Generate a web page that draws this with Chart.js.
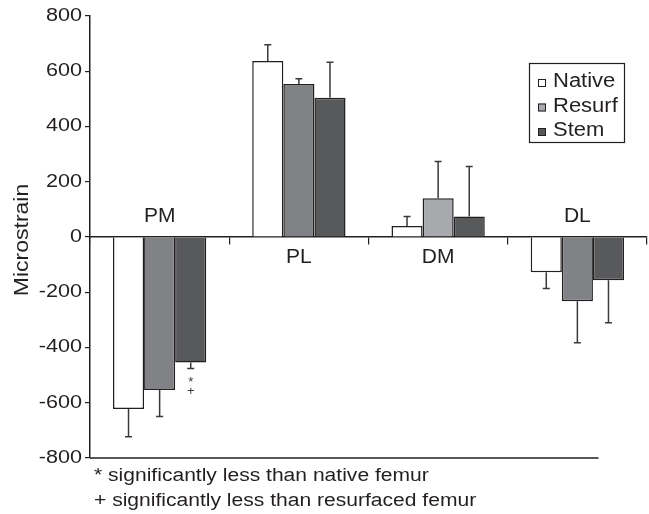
<!DOCTYPE html>
<html><head><meta charset="utf-8">
<script src="https://cdn.jsdelivr.net/npm/chart.js@4/dist/chart.umd.min.js"></script>
<style>html,body{margin:0;padding:0;background:#fff}#wrap{width:649px;height:514px}</style>
</head><body><div id="wrap"><canvas id="c" width="649" height="514"></canvas></div>
<script>
const categories = ['PM', 'PL', 'DM', 'DL'];
const seriesNames = ['Native', 'Resurf', 'Stem'];
const nativeVals = [-623, 637, 40, -128];
const resurfVals = [-554, 554, 140, -233];
const stemVals = [-454, 504, 74, -157];
const nativeErr = [100, 59, 34, 58];
const resurfErr = [96, 19, 133, 150];
const stemErr = [22, 129, 181, 153];
const yTickValues = [-800, -600, -400, -200, 0, 200, 400, 600, 800];
const yTitle = 'Microstrain';
const sigMarks = [{ dataset: 2, index: 0, marks: ['*', '+'] }];
const footnotes = ['* significantly less than native femur', '+ significantly less than resurfaced femur'];

const INK = '#231f20';
const FONT = "'Liberation Sans', Arial, sans-serif";
const resurfColors = ['#808285', '#808285', '#a7a9ac', '#808285'];
const legendColors = ['#ffffff', '#a7a9ac', '#58595b'];
const errs = [nativeErr, resurfErr, stemErr];

function txt(ctx, s, x, y, size, sx, align, base) {
  ctx.save();
  ctx.translate(x, y); ctx.scale(sx, 1);
  ctx.font = size + 'px ' + FONT;
  ctx.textAlign = align; ctx.textBaseline = base || 'middle';
  ctx.fillText(s, 0, 0);
  ctx.restore();
}

const extras = {
  id: 'extras',
  afterDatasetsDraw(chart) {
    const ctx = chart.ctx, ys = chart.scales.y, xs = chart.scales.x, ca = chart.chartArea;
    ctx.save();
    // error bars
    ctx.strokeStyle = '#3a3a3c'; ctx.lineWidth = 1.5;
    chart.data.datasets.forEach((ds, di) => {
      const meta = chart.getDatasetMeta(di);
      meta.data.forEach((bar, i) => {
        const v = ds.data[i], e = errs[di][i];
        const end = ys.getPixelForValue(v + Math.sign(v) * e);
        ctx.beginPath();
        ctx.moveTo(bar.x, bar.y); ctx.lineTo(bar.x, end);
        ctx.moveTo(bar.x - 3.5, end); ctx.lineTo(bar.x + 3.5, end);
        ctx.stroke();
      });
    });
    // significance marks
    ctx.fillStyle = '#3a3a3c';
    sigMarks.forEach(s => {
      const v = chart.data.datasets[s.dataset].data[s.index];
      const e = errs[s.dataset][s.index];
      const bar = chart.getDatasetMeta(s.dataset).data[s.index];
      let y = ys.getPixelForValue(v - e) + 14;
      s.marks.forEach(m => { txt(ctx, m, bar.x, y, 13, 1, 'center'); y += 9; });
    });
    ctx.fillStyle = INK;
    // y tick labels
    yTickValues.forEach(v => txt(ctx, String(v), 82, ys.getPixelForValue(v), 18, 1.2, 'right'));
    // category labels
    const y0 = ys.getPixelForValue(0);
    categories.forEach((c, i) => {
      const x = xs.getPixelForValue(i);
      const above = nativeVals[i] < 0;
      txt(ctx, c, x, above ? y0 - 21 : y0 + 20, 21, 1, 'center');
    });
    // bottom line
    ctx.strokeStyle = INK; ctx.lineWidth = 1.5;
    const yb = ys.getPixelForValue(-800);
    ctx.beginPath(); ctx.moveTo(ca.left, yb); ctx.lineTo(ca.left + (ca.right - ca.left) * 0.913, yb); ctx.stroke();
    // legend
    const lx = 529, ly = 63, lw = 95, lh = 79;
    ctx.lineWidth = 1.2; ctx.strokeStyle = INK;
    ctx.strokeRect(lx + 0.5, ly + 0.5, lw, lh);
    seriesNames.forEach((n, i) => {
      const by = ly + 24 + i * 24.5;
      ctx.fillStyle = legendColors[i];
      ctx.fillRect(lx + 9, by - 8, 8, 8);
      ctx.lineWidth = 1; ctx.strokeStyle = INK;
      ctx.strokeRect(lx + 9.5, by - 7.5, 7, 7);
      ctx.fillStyle = INK;
      txt(ctx, n, lx + 24, by, 20, 1.1, 'left', 'alphabetic');
    });
    // y title
    ctx.save();
    ctx.translate(22, 240); ctx.rotate(-Math.PI / 2);
    txt(ctx, yTitle, 0, 0, 20, 1.15, 'center');
    ctx.restore();
    // footnotes
    footnotes.forEach((f, i) => txt(ctx, f, 94, 476 + i * 25, 18, 1.17, 'left'));
    ctx.restore();
  }
};

new Chart(document.getElementById('c'), {
  type: 'bar',
  data: {
    labels: categories,
    datasets: [
      { label: seriesNames[0], data: nativeVals, backgroundColor: '#ffffff', borderColor: INK, borderWidth: 1.5 },
      { label: seriesNames[1], data: resurfVals, backgroundColor: resurfColors, borderColor: INK, borderWidth: 1.5 },
      { label: seriesNames[2], data: stemVals, backgroundColor: '#58595b', borderColor: INK, borderWidth: 1.5 }
    ]
  },
  options: {
    responsive: false,
    animation: false,
    devicePixelRatio: 1,
    layout: { padding: { top: 16, bottom: 56, right: 2, left: 0 } },
    datasets: { bar: { categoryPercentage: 0.67, barPercentage: 1.0 } },
    plugins: { legend: { display: false }, tooltip: { enabled: false } },
    scales: {
      x: {
        position: { y: 0 },
        ticks: { display: false },
        grid: { display: true, drawOnChartArea: false, drawTicks: true, tickLength: 7, color: INK, lineWidth: 1.2 },
        border: { display: true, color: INK, width: 1.5 }
      },
      y: {
        min: -800, max: 800,
        afterFit(s) { s.width = 90; },
        afterBuildTicks(s) { s.ticks = yTickValues.map(v => ({ value: v })); },
        ticks: { display: false },
        grid: { drawOnChartArea: false, drawTicks: true, tickLength: 5, color: INK, lineWidth: 1.2 },
        border: { display: true, color: INK, width: 1.5 }
      }
    }
  },
  plugins: [extras]
});
</script></body></html>
